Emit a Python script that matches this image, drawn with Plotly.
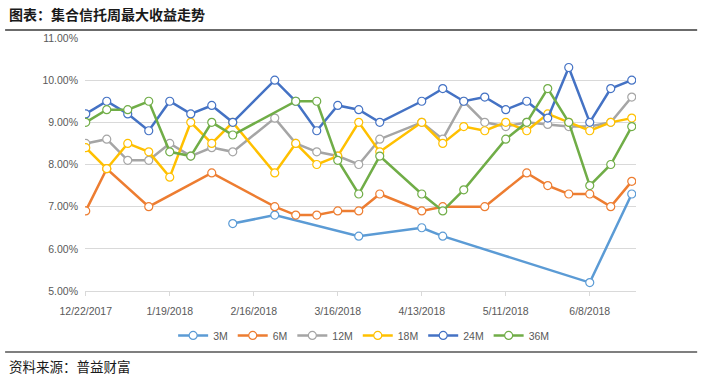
import plotly.graph_objects as go

dates = ["2017-12-22", "2017-12-29", "2018-01-05", "2018-01-12", "2018-01-19", "2018-01-26",
         "2018-02-02", "2018-02-09", "2018-02-16", "2018-02-23", "2018-03-02", "2018-03-09",
         "2018-03-16", "2018-03-23", "2018-03-30", "2018-04-06", "2018-04-13", "2018-04-20",
         "2018-04-27", "2018-05-04", "2018-05-11", "2018-05-18", "2018-05-25", "2018-06-01",
         "2018-06-08", "2018-06-15", "2018-06-22"]
N = None
s_3m = [N, N, N, N, N, N, N, 6.6, N, 6.8, N, N, N, 6.3, N, N, 6.5, 6.3, N, N, N, N, N, N, 5.2, N, 7.3]
s_6m = [6.9, 7.9, N, 7.0, N, N, 7.8, N, N, 7.0, 6.8, 6.8, 6.9, 6.9, 7.3, N, 6.9, 7.0, N, 7.0, N, 7.8, 7.5, 7.3, 7.3, 7.0, 7.6]
s_12m = [8.5, 8.6, 8.1, 8.1, 8.5, 8.2, 8.4, 8.3, N, 9.1, 8.5, 8.3, 8.2, 8.0, 8.6, N, 9.0, 8.6, 9.5, 9.0, 8.9, 9.0, 8.95, 8.9, 8.9, 9.0, 9.6]
s_18m = [8.4, 7.9, 8.5, 8.3, 7.7, 9.0, 8.5, 9.0, N, 7.8, 8.5, 8.0, 8.2, 9.0, 8.3, N, 9.0, 8.5, 8.9, 8.8, 9.0, 8.8, 9.2, 9.0, 8.8, 9.0, 9.1]
s_24m = [9.2, 9.5, 9.2, 8.8, 9.5, 9.2, 9.4, 9.0, N, 10.0, 9.5, 8.8, 9.4, 9.3, 9.0, N, 9.5, 9.8, 9.5, 9.6, 9.3, 9.5, 9.1, 10.3, 9.0, 9.8, 10.0]
s_36m = [9.0, 9.3, 9.3, 9.5, 8.3, 8.2, 9.0, 8.7, N, N, 9.5, 9.5, 8.1, 7.3, 8.2, N, 7.3, 6.9, 7.4, N, 8.6, 9.0, 9.8, 9.0, 7.5, 8.0, 8.9]

series_names = ["3M", "6M", "12M", "18M", "24M", "36M"]
series_values = [s_3m, s_6m, s_12m, s_18m, s_24m, s_36m]
colors = ["#5B9BD5", "#ED7D31", "#A5A5A5", "#FFC000", "#4472C4", "#70AD47"]

x_tickvals = ["2017-12-22", "2018-01-19", "2018-02-16", "2018-03-16", "2018-04-13", "2018-05-11", "2018-06-08"]
x_ticktext = ["12/22/2017", "1/19/2018", "2/16/2018", "3/16/2018", "4/13/2018", "5/11/2018", "6/8/2018"]
y_tickvals = [5, 6, 7, 8, 9, 10, 11]
y_ticktext = ["5.00%", "6.00%", "7.00%", "8.00%", "9.00%", "10.00%", "11.00%"]

fig = go.Figure()
for name, vals, c in zip(series_names, series_values, colors):
    fig.add_trace(go.Scatter(
        x=dates, y=vals, name=name, mode="lines+markers", connectgaps=True,
        line=dict(color=c, width=2.5),
        marker=dict(symbol="circle", size=8, color="white", line=dict(color=c, width=1.2)),
    ))

tick_font = dict(family="Liberation Sans, Arial, sans-serif", size=10.5, color="#595959")

fig.update_layout(
    width=702, height=376,
    margin=dict(l=85, r=66, t=38, b=85, autoexpand=False),
    paper_bgcolor="white", plot_bgcolor="white",
    showlegend=True,
    legend=dict(orientation="h", xref="container", x=0.518, xanchor="center",
                yref="container", y=0.108, yanchor="middle",
                font=tick_font, itemwidth=30, tracegroupgap=0,
                bgcolor="rgba(0,0,0,0)"),
    xaxis=dict(type="date", range=["2017-12-21 18:00", "2018-06-23 10:00"],
               tickvals=x_tickvals, ticktext=x_ticktext, tickfont=tick_font,
               showgrid=False, showline=True, linecolor="#D9D9D9", linewidth=1,
               ticks="outside", ticklen=4, tickcolor="#D9D9D9", zeroline=False,
               ticklabelstandoff=6),
    yaxis=dict(range=[5, 11], tickvals=y_tickvals, ticktext=y_ticktext, tickfont=tick_font,
               showgrid=True, gridcolor="#D9D9D9", gridwidth=1, zeroline=False,
               showline=False, ticks="", ticklabelstandoff=6),
    shapes=[
        dict(type="line", xref="paper", yref="paper", x0=-0.145, x1=1.111, y0=1.0316, y1=1.0316,
             line=dict(color="#3A3A3A", width=1.5)),
        dict(type="line", xref="paper", yref="paper", x0=-0.145, x1=1.111, y0=-0.241, y1=-0.241,
             line=dict(color="#7F7F7F", width=2)),
    ],
    annotations=[
        dict(text="<b>图表：集合信托周最大收益走势</b>", xref="paper", yref="paper",
             x=-0.1416, y=1.096, xanchor="left", yanchor="middle", showarrow=False,
             font=dict(family="Noto Sans CJK SC", size=14, color="#1A1A1A")),
        dict(text="资料来源：普益财富", xref="paper", yref="paper",
             x=-0.1416, y=-0.296, xanchor="left", yanchor="middle", showarrow=False,
             font=dict(family="Noto Sans CJK SC", size=13.5, color="#1A1A1A")),
    ],
)

fig.write_html("out.html", config={"displayModeBar": False},
               post_script="document.body.style.margin='0';document.body.style.overflow='hidden';")
